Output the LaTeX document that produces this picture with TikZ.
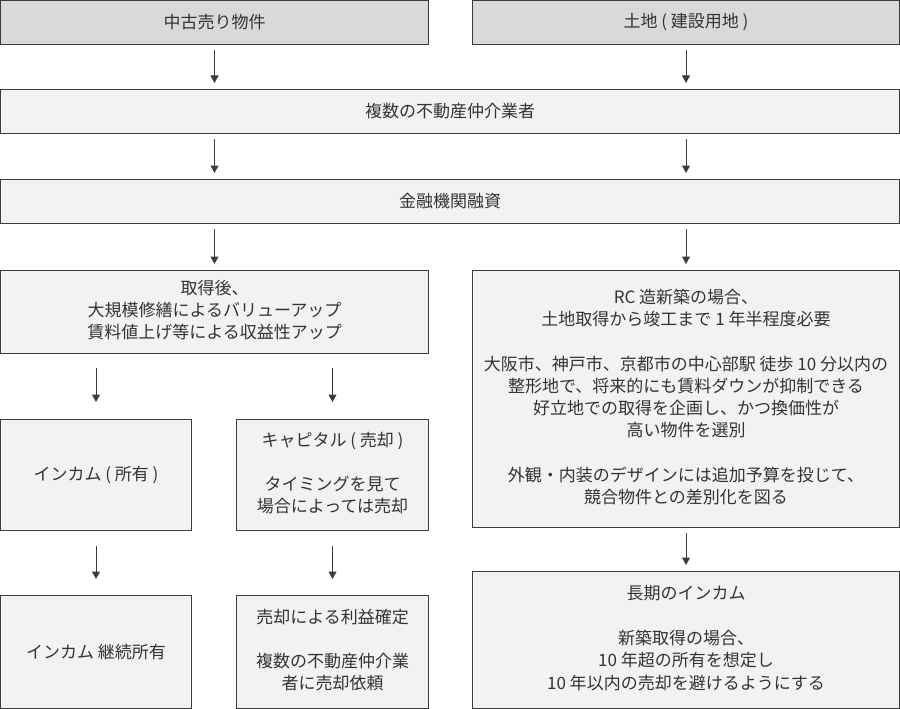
\documentclass[tikz,border=0pt]{standalone}
\usepackage{fontspec}
\setmainfont{Noto Sans CJK JP}
\usetikzlibrary{arrows.meta}
\definecolor{txt}{HTML}{333333}
\definecolor{edge}{HTML}{3C3C3C}
\definecolor{darkfill}{HTML}{D9D9D9}
\definecolor{lightfill}{HTML}{F2F2F2}
\newcommand{\mlines}[2][4pt]{\raisebox{#1}{\begin{tabular}{@{}c@{}}#2\end{tabular}}}
\tikzset{
  box/.style={draw=edge, line width=1pt, inner sep=0pt, outer sep=0pt, text=txt,
    font=\fontsize{17}{22.3}\selectfont, align=center},
  darkbox/.style={box, fill=darkfill},
  lightbox/.style={box, fill=lightfill},
  arr/.style={draw=edge, line width=1pt, -{Triangle[length=7.5pt,width=8pt]}},
}
\begin{document}
\begin{tikzpicture}[x=1pt,y=-1pt]
\useasboundingbox (0,0) rectangle (900,709);
\node[darkbox, minimum width=428pt, minimum height=44pt] (A) at (214.5,22.5) {中古売り物件};
\node[darkbox, minimum width=427pt, minimum height=44pt] (B) at (686,22.5) {土地 ( 建設用地 )};
\node[lightbox, minimum width=899pt, minimum height=44pt] (M1) at (450,111.5) {複数の不動産仲介業者};
\node[lightbox, minimum width=899pt, minimum height=44pt] (M2) at (450,201.5) {金融機関融資};
\node[lightbox, minimum width=428pt, minimum height=83pt] (ACQ) at (214.5,312) {\mlines[0pt]{取得後、\\大規模修繕によるバリューアップ\\賃料値上げ等による収益性アップ}};
\node[lightbox, minimum width=427pt, minimum height=257pt] (RC) at (686,399) {\mlines[3pt]{RC 造新築の場合、\\土地取得から竣工まで 1 年半程度必要\\ \\大阪市、神戸市、京都市の中心部駅 徒歩 10 分以内の\\整形地で、将来的にも賃料ダウンが抑制できる\\好立地での取得を企画し、かつ換価性が\\高い物件を選別\\ \\外観・内装のデザインには追加予算を投じて、\\競合物件との差別化を図る}};
\node[lightbox, minimum width=191pt, minimum height=111pt] (INC) at (96,475) {インカム ( 所有 )};
\node[lightbox, minimum width=192pt, minimum height=111pt] (CAP) at (332.5,475) {\mlines{キャピタル ( 売却 )\\ \\タイミングを見て\\場合によっては売却}};
\node[lightbox, minimum width=191pt, minimum height=113pt] (INC2) at (96,652) {インカム 継続所有};
\node[lightbox, minimum width=192pt, minimum height=113pt] (SALE) at (332.5,652) {\mlines{売却による利益確定\\ \\複数の不動産仲介業\\者に売却依頼}};
\node[lightbox, minimum width=427pt, minimum height=137pt] (LONG) at (686,640) {\mlines[5pt]{長期のインカム\\ \\新築取得の場合、\\10 年超の所有を想定し\\10 年以内の売却を避けるようにする}};
\draw[arr, shorten <=5.5pt, shorten >=6.5pt] (A.south) -- (M1.north -| A.south);
\draw[arr, shorten <=5.5pt, shorten >=6.5pt] (B.south) -- (M1.north -| B.south);
\draw[arr, shorten <=5.5pt, shorten >=6.5pt] (M1.south -| A.south) -- (M2.north -| A.south);
\draw[arr, shorten <=5.5pt, shorten >=6.5pt] (M1.south -| B.south) -- (M2.north -| B.south);
\draw[arr, shorten <=5.5pt, shorten >=6.5pt] (M2.south -| ACQ.north) -- (ACQ.north);
\draw[arr, shorten <=5.5pt, shorten >=6.5pt] (M2.south -| RC.north) -- (RC.north);
\draw[arr, shorten <=14.5pt, shorten >=17.5pt] (ACQ.south -| INC.north) -- (INC.north);
\draw[arr, shorten <=14.5pt, shorten >=17.5pt] (ACQ.south -| CAP.north) -- (CAP.north);
\draw[arr, shorten <=15.5pt, shorten >=16.5pt] (INC.south) -- (INC2.north);
\draw[arr, shorten <=15.5pt, shorten >=16.5pt] (CAP.south) -- (SALE.north);
\draw[arr, shorten <=5.5pt, shorten >=6.5pt] (RC.south) -- (LONG.north);
\end{tikzpicture}
\end{document}
